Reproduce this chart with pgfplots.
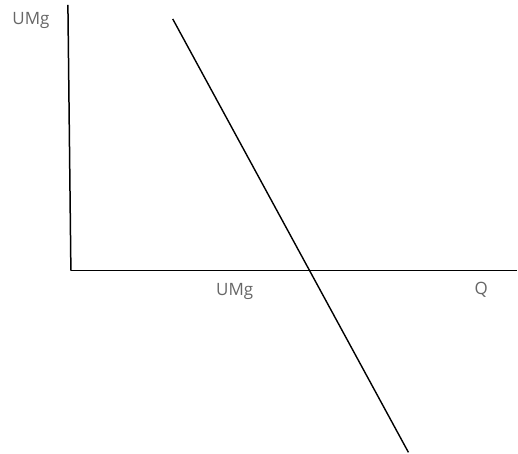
\documentclass[border=0pt]{standalone}
\usepackage{pgfplots}
\pgfplotsset{compat=1.18}
\usepackage{fontspec}
\setmainfont{Open Sans}
\definecolor{lbl}{gray}{0.4}
\begin{document}
\begin{tikzpicture}
\begin{axis}[
  scale only axis, width=518pt, height=453pt,
  xmin=0, xmax=518, ymin=0, ymax=453, y dir=reverse,
  hide axis, clip=false,
]
\draw[draw=none] (rel axis cs:0,0) rectangle (rel axis cs:1,1);
\addplot[black, line width=1.5pt] coordinates {(68,5) (71,271)};
\addplot[black, line width=1.5pt] coordinates {(71,271) (518,271)};
\addplot[black, line width=1.4pt] coordinates {(173,19) (409,453)};
\node[lbl, font=\fontsize{17}{20}\selectfont] at (axis cs:31,21) {UMg};
\node[lbl, font=\fontsize{17}{20}\selectfont] at (axis cs:235,292) {UMg};
\node[lbl, font=\fontsize{17}{20}\selectfont] at (axis cs:482,290) {Q};
\end{axis}
\end{tikzpicture}
\end{document}
